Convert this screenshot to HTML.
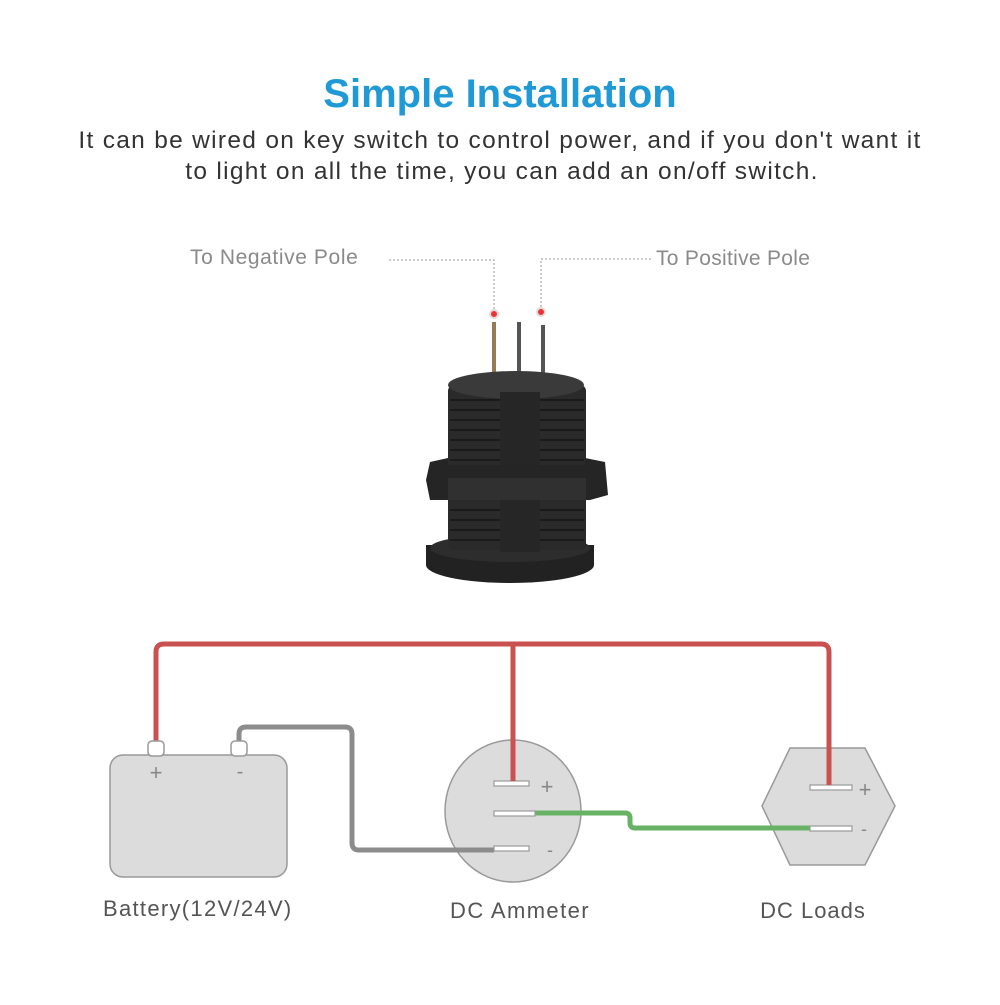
<!DOCTYPE html>
<html><head><meta charset="utf-8"><style>
html,body{margin:0;padding:0;background:#fff;}
body{width:1000px;height:1000px;overflow:hidden;}
</style></head><body>
<svg width="1000" height="1000" viewBox="0 0 1000 1000" xmlns="http://www.w3.org/2000/svg">
<rect width="1000" height="1000" fill="#fff"/>
<text x="500" y="107" text-anchor="middle" font-family="Liberation Sans, sans-serif" font-weight="bold" font-size="40" fill="#1f9ad6">Simple Installation</text>
<text x="500" y="148" text-anchor="middle" font-family="Liberation Sans, sans-serif" font-size="24.5" letter-spacing="1.3" fill="#333">It can be wired on key switch to control power, and if you don't want it</text>
<text x="502" y="179" text-anchor="middle" font-family="Liberation Sans, sans-serif" font-size="24.5" letter-spacing="1.3" fill="#333">to light on all the time, you can add an on/off switch.</text>

<text x="190" y="264" font-family="Liberation Sans, sans-serif" font-size="21" letter-spacing="0.6" fill="#8a8a8a">To Negative Pole</text>
<text x="656" y="265" font-family="Liberation Sans, sans-serif" font-size="21" letter-spacing="0.3" fill="#8a8a8a">To Positive Pole</text>
<polyline points="389,260 494,260 494,310" fill="none" stroke="#999" stroke-width="1" stroke-dasharray="2,2"/>
<polyline points="651,259 541,259 541,308" fill="none" stroke="#999" stroke-width="1" stroke-dasharray="2,2"/>
<circle cx="494" cy="314" r="4" fill="#e33" stroke="#ddd" stroke-width="2"/>
<circle cx="541" cy="312" r="4" fill="#e33" stroke="#ddd" stroke-width="2"/>

<!-- product -->
<line x1="494" y1="322" x2="494" y2="380" stroke="#9a7a55" stroke-width="4"/>
<line x1="519" y1="322" x2="519" y2="380" stroke="#555" stroke-width="4"/>
<line x1="543" y1="325" x2="543" y2="380" stroke="#555" stroke-width="4"/>
<ellipse cx="510" cy="565" rx="84" ry="18" fill="#222"/>
<rect x="426" y="545" width="168" height="20" fill="#222"/>
<ellipse cx="510" cy="548" rx="80" ry="14" fill="#2d2d2d"/>
<rect x="448" y="385" width="138" height="165" rx="6" fill="#2a2a2a"/>
<ellipse cx="516" cy="385" rx="68" ry="14" fill="#3a3a3a"/>
<g stroke="#1a1a1a" stroke-width="2">
<line x1="450" y1="400" x2="584" y2="400"/><line x1="450" y1="410" x2="584" y2="410"/>
<line x1="450" y1="420" x2="584" y2="420"/><line x1="450" y1="430" x2="584" y2="430"/>
<line x1="450" y1="440" x2="584" y2="440"/><line x1="450" y1="450" x2="584" y2="450"/>
<line x1="450" y1="460" x2="584" y2="460"/><line x1="450" y1="510" x2="584" y2="510"/>
<line x1="450" y1="520" x2="584" y2="520"/><line x1="450" y1="530" x2="584" y2="530"/>
<line x1="450" y1="540" x2="584" y2="540"/>
</g>
<rect x="500" y="392" width="40" height="160" fill="#262626"/>
<path d="M430 462 L448 458 L448 465 L585 465 L585 458 L605 462 L608 495 L590 500 L430 500 L426 480 Z" fill="#252525"/>
<rect x="448" y="478" width="138" height="22" fill="#303030"/>

<!-- wires -->
<path d="M156 742 V652 Q156 644 164 644 H821 Q829 644 829 652 V785" fill="none" stroke="#c9514f" stroke-width="5"/>
<line x1="513" y1="644" x2="513" y2="782" stroke="#c9514f" stroke-width="5"/>
<path d="M239 742 V734 Q239 727 246 727 H345 Q352 727 352 734 V843 Q352 850 359 850 H494" fill="none" stroke="#8c8c8c" stroke-width="5"/>

<!-- battery -->
<rect x="110" y="755" width="177" height="122" rx="13" fill="#dcdcdc" stroke="#9a9a9a" stroke-width="1.5"/>
<rect x="148" y="741" width="16" height="15" rx="4" fill="#fff" stroke="#999" stroke-width="1.5"/>
<rect x="231" y="741" width="16" height="15" rx="4" fill="#fff" stroke="#999" stroke-width="1.5"/>
<text x="156" y="780" text-anchor="middle" font-family="Liberation Sans, sans-serif" font-size="22" fill="#888">+</text>
<text x="240" y="778" text-anchor="middle" font-family="Liberation Sans, sans-serif" font-size="20" fill="#888">-</text>

<!-- ammeter -->
<ellipse cx="513" cy="811" rx="68" ry="71" fill="#dcdcdc" stroke="#9a9a9a" stroke-width="1.5"/>
<path d="M440 850 H494" stroke="#8c8c8c" stroke-width="5"/>
<path d="M535 813 H625 Q630 813 630 818 V823 Q630 828 635 828 H810" fill="none" stroke="#68b266" stroke-width="5"/>
<g fill="#fff" stroke="#999" stroke-width="1.2">
<rect x="494" y="781" width="35" height="5"/>
<rect x="494" y="811" width="41" height="5"/>
<rect x="494" y="846" width="35" height="5"/>
</g>
<line x1="513" y1="644" x2="513" y2="781" stroke="#c9514f" stroke-width="5"/>
<text x="547" y="794" text-anchor="middle" font-family="Liberation Sans, sans-serif" font-size="22" fill="#888">+</text>
<text x="550" y="856" text-anchor="middle" font-family="Liberation Sans, sans-serif" font-size="18" fill="#888">-</text>

<!-- loads -->
<polygon points="790,748 865,748 895,806 865,865 790,865 762,806" fill="#dcdcdc" stroke="#9a9a9a" stroke-width="1.5"/>
<path d="M762 828 H810" stroke="#68b266" stroke-width="5"/>
<g fill="#fff" stroke="#999" stroke-width="1.2">
<rect x="810" y="785" width="42" height="5"/>
<rect x="810" y="826" width="42" height="5"/>
</g>
<line x1="829" y1="700" x2="829" y2="785" stroke="#c9514f" stroke-width="5"/>
<text x="865" y="797" text-anchor="middle" font-family="Liberation Sans, sans-serif" font-size="22" fill="#888">+</text>
<text x="864" y="835" text-anchor="middle" font-family="Liberation Sans, sans-serif" font-size="18" fill="#888">-</text>

<text x="103" y="916" font-family="Liberation Sans, sans-serif" font-size="22" letter-spacing="1.3" fill="#555">Battery(12V/24V)</text>
<text x="520" y="918" text-anchor="middle" font-family="Liberation Sans, sans-serif" font-size="22" letter-spacing="1.4" fill="#555">DC Ammeter</text>
<text x="813" y="918" text-anchor="middle" font-family="Liberation Sans, sans-serif" font-size="22" letter-spacing="1" fill="#555">DC Loads</text>
</svg>
</body></html>
